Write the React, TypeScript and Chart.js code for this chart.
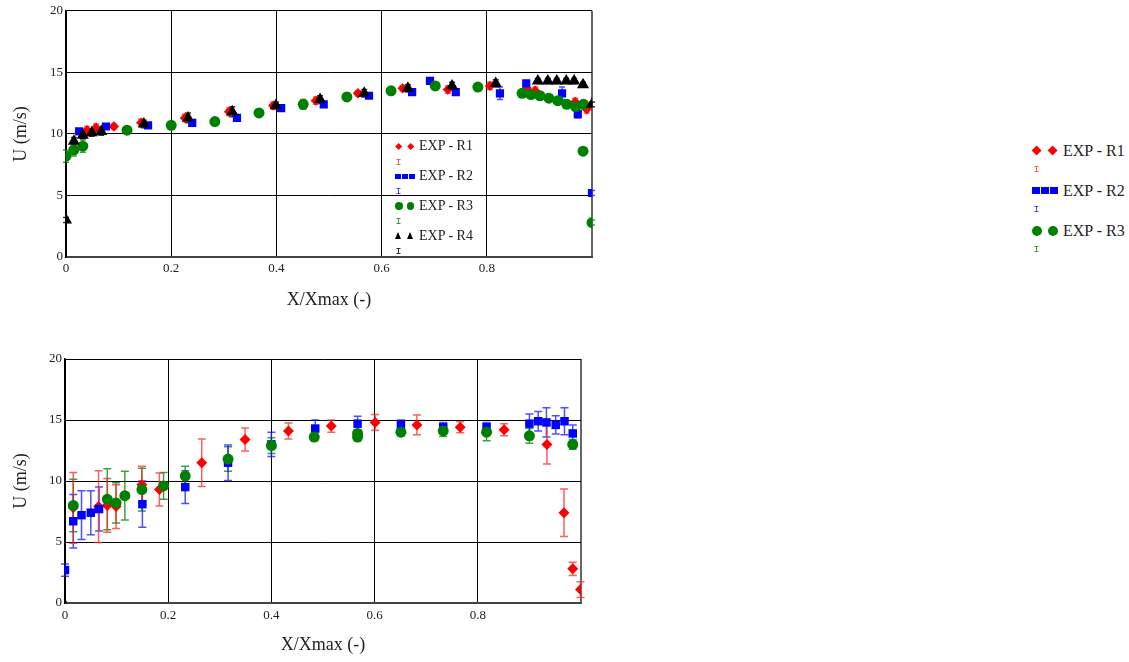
import React, { useEffect, useRef } from 'react';
import { Chart, registerables } from 'chart.js';
Chart.register(...registerables);

const FONT = '"Liberation Serif", "Times New Roman", serif';

const xTickLabels = ['0', '0.2', '0.4', '0.6', '0.8', ''];
const yTickLabels = ['0', '5', '10', '15', '20'];
const seriesNames = ['EXP - R1', 'EXP - R2', 'EXP - R3', 'EXP - R4'];
const xTitle = 'X/Xmax (-)';
const yTitle = 'U (m/s)';

// ---------- top chart ----------
const topR1X = [0.04, 0.057, 0.091, 0.143, 0.226, 0.31, 0.394, 0.475, 0.555, 0.64, 0.726, 0.806, 0.876, 0.892, 0.968, 0.99];
const topR1U = [10.3, 10.5, 10.6, 10.9, 11.3, 11.8, 12.3, 12.7, 13.3, 13.7, 13.6, 13.9, 13.7, 13.5, 12.6, 12.0];
const topR1Err = [0.3, 0.3, 0.2, 0.3, 0.3, 0.3, 0.3, 0.3, 0.2, 0.2, 0.3, 0.3, 0.2, 0.3, 0.3, 0.3];

const topR2X = [0.025, 0.076, 0.156, 0.24, 0.325, 0.409, 0.49, 0.576, 0.658, 0.692, 0.741, 0.825, 0.875, 0.943, 0.973, 1.0];
const topR2U = [10.2, 10.6, 10.7, 10.9, 11.3, 12.1, 12.4, 13.1, 13.4, 14.3, 13.4, 13.3, 14.1, 13.3, 11.6, 5.2];
const topR2Err = [0.2, 0.2, 0.2, 0.2, 0.2, 0.2, 0.2, 0.2, 0.2, 0.2, 0.2, 0.5, 0.2, 0.5, 0.3, 0.2];

const topR3X = [0, 0.015, 0.032, 0.116, 0.2, 0.283, 0.367, 0.451, 0.534, 0.618, 0.702, 0.783, 0.867, 0.884, 0.901, 0.918, 0.935, 0.952, 0.969, 0.984, 0.983, 1.0];
const topR3U = [8.2, 8.7, 9.0, 10.3, 10.7, 11.0, 11.7, 12.4, 13.0, 13.5, 13.9, 13.8, 13.3, 13.2, 13.1, 12.9, 12.7, 12.4, 12.2, 12.4, 8.6, 2.8];
const topR3Err = [0.5, 0.5, 0.5, 0.2, 0.2, 0.2, 0.2, 0.4, 0.2, 0.2, 0.2, 0.2, 0.2, 0.2, 0.2, 0.2, 0.2, 0.2, 0.2, 0.2, 0.2, 0.2];

const topR4X = [0, 0.015, 0.032, 0.049, 0.067, 0.148, 0.232, 0.316, 0.399, 0.483, 0.567, 0.65, 0.734, 0.817, 0.897, 0.916, 0.933, 0.951, 0.966, 0.983, 1.0];
const topR4U = [3.0, 9.4, 9.9, 10.1, 10.2, 10.8, 11.3, 11.8, 12.3, 12.8, 13.3, 13.7, 13.9, 14.1, 14.3, 14.3, 14.3, 14.3, 14.3, 14.0, 12.4];
const topR4Err = [0.2, 0.3, 0.3, 0.3, 0.3, 0.3, 0.4, 0.4, 0.3, 0.3, 0.3, 0.3, 0.3, 0.3, 0.2, 0.2, 0.2, 0.2, 0.2, 0.2, 0.2];

// ---------- bottom chart ----------
const botR1X = [0.016, 0.065, 0.082, 0.099, 0.149, 0.183, 0.265, 0.349, 0.433, 0.516, 0.601, 0.682, 0.766, 0.851, 0.934, 0.967, 0.984, 0.999];
const botR1U = [7.8, 7.9, 8.0, 7.9, 9.7, 9.3, 11.5, 13.4, 14.1, 14.5, 14.8, 14.6, 14.4, 14.2, 13.0, 7.4, 2.8, 1.1];
const botR1Err = [2.9, 2.95, 2.2, 1.8, 1.5, 1.35, 1.95, 0.95, 0.65, 0.5, 0.65, 0.8, 0.45, 0.5, 1.6, 1.95, 0.55, 0.65];

const botR2X = [0, 0.016, 0.032, 0.05, 0.066, 0.15, 0.233, 0.316, 0.4, 0.485, 0.567, 0.651, 0.733, 0.817, 0.9, 0.917, 0.933, 0.951, 0.968, 0.984];
const botR2U = [2.7, 6.7, 7.2, 7.4, 7.7, 8.1, 9.5, 11.5, 13.0, 14.3, 14.7, 14.6, 14.4, 14.4, 14.7, 14.9, 14.8, 14.6, 14.9, 13.9];
const botR2Err = [0.5, 2.2, 2.0, 1.8, 1.8, 1.9, 1.35, 1.45, 1.0, 0.7, 0.6, 0.4, 0.4, 0.4, 0.8, 0.8, 1.2, 0.75, 1.1, 0.7];

const botR3X = [0.016, 0.082, 0.099, 0.116, 0.149, 0.191, 0.233, 0.316, 0.4, 0.483, 0.567, 0.567, 0.651, 0.733, 0.817, 0.9, 0.984];
const botR3U = [8.0, 8.5, 8.2, 8.8, 9.3, 9.6, 10.4, 11.8, 12.9, 13.6, 13.6, 13.9, 14.0, 14.1, 14.0, 13.7, 13.0];
const botR3Err = [2.15, 2.5, 1.65, 2.0, 1.75, 1.1, 0.8, 1.0, 0.65, 0.3, 0.3, 0.3, 0.3, 0.45, 0.7, 0.6, 0.4];

const botR4X = [0];
const botR4U = [0.1];
const botR4Err = [0];

const COLORS = ['#ff0000', '#0000ff', '#008000', '#000000'];
const ERR_COLORS = ['rgba(255,40,40,0.75)', 'rgba(20,20,255,0.75)', 'rgba(0,128,0,0.75)', 'rgba(0,0,0,0.8)'];
const STYLES = ['rectRot', 'rect', 'circle', 'triangle'];

const errorBarPlugin = {
  id: 'errorBars',
  beforeDatasetsDraw(chart: any) {
    const { ctx, scales, chartArea } = chart;
    const x = scales.x, y = scales.y;
    ctx.save();
    ctx.beginPath();
    ctx.rect(chartArea.left - 6, chartArea.top, chartArea.right - chartArea.left + 12, chartArea.bottom - chartArea.top);
    ctx.clip();
    chart.data.datasets.forEach((ds: any) => {
      const errs = ds.errors;
      if (!errs) return;
      ctx.strokeStyle = ds.errorColor;
      ctx.lineWidth = 1.5;
      ds.data.forEach((p: any, j: number) => {
        const e = errs[j];
        if (!e) return;
        const px = x.getPixelForValue(p.x);
        const y1 = y.getPixelForValue(p.y - e);
        const y2 = y.getPixelForValue(p.y + e);
        const cap = ds.capHalf;
        ctx.beginPath();
        ctx.moveTo(px, y1); ctx.lineTo(px, y2);
        ctx.moveTo(px - cap, y1); ctx.lineTo(px + cap, y1);
        ctx.moveTo(px - cap, y2); ctx.lineTo(px + cap, y2);
        ctx.stroke();
      });
    });
    ctx.restore();
  },
};

function makeDataset(idx: number, xs: number[], us: number[], errs: number[], radius: number, cap: number) {
  return {
    label: seriesNames[idx],
    data: xs.map((v, i) => ({ x: v, y: us[i] })),
    errors: errs,
    errorColor: ERR_COLORS[idx],
    capHalf: cap,
    pointStyle: STYLES[idx],
    pointRadius: radius,
    pointBackgroundColor: COLORS[idx],
    pointBorderColor: COLORS[idx],
    pointBorderWidth: 0,
    showLine: false,
  };
}

function buildOptions(yWidth: number, xHeight: number, padTop: number, padRight: number, xTitlePadBottom: number, xTickPad: number) {
  return {
    responsive: false,
    maintainAspectRatio: false,
    animation: false,
    events: [],
    layout: { padding: { top: padTop, right: padRight, left: 0, bottom: 0 } },
    plugins: { legend: { display: false }, tooltip: { enabled: false } },
    scales: {
      x: {
        type: 'linear',
        position: 'bottom',
        min: 0,
        max: 1,
        ticks: {
          stepSize: 0.2,
          autoSkip: false,
          maxRotation: 0,
          padding: xTickPad,
          color: '#222',
          font: { family: FONT, size: 13 },
          callback: (_v: any, i: number) => xTickLabels[i] ?? '',
        },
        grid: {
          drawTicks: false,
          color: (c: any) => (c.tick && c.tick.value >= 0.999 ? '#666' : '#000'),
          lineWidth: (c: any) => (c.tick && c.tick.value >= 0.999 ? 2 : 1),
        },
        border: { color: '#444', width: 2 },
        title: {
          display: true,
          text: xTitle,
          color: '#222',
          font: { family: FONT, size: 18, lineHeight: 1 },
          padding: { top: 0, bottom: xTitlePadBottom },
        },
        afterFit: (s: any) => { s.height = xHeight; },
      },
      y: {
        type: 'linear',
        min: 0,
        max: 20,
        ticks: {
          stepSize: 5,
          padding: 3,
          color: '#222',
          font: { family: FONT, size: 13 },
          callback: (_v: any, i: number) => yTickLabels[i] ?? '',
        },
        grid: { drawTicks: false, color: '#000', lineWidth: 1 },
        border: { color: '#000', width: 1.5 },
        title: {
          display: true,
          text: yTitle,
          color: '#222',
          font: { family: FONT, size: 18, lineHeight: 1 },
          padding: { top: 12, bottom: 0 },
        },
        afterFit: (s: any) => { s.width = yWidth; },
      },
    },
  };
}

function ChartCanvas({ datasets, options, left, top, width, height }: any) {
  const ref = useRef<HTMLCanvasElement | null>(null);
  useEffect(() => {
    if (!ref.current) return;
    const chart = new Chart(ref.current, {
      type: 'scatter',
      data: { datasets },
      options,
      plugins: [errorBarPlugin],
    } as any);
    return () => chart.destroy();
  }, []);
  return (
    <canvas
      ref={ref}
      width={width}
      height={height}
      style={{ position: 'absolute', left, top, width, height }}
    />
  );
}

function Marker({ kind, size, color, left, top }: any) {
  const base: any = { position: 'absolute' };
  if (kind === 'diamond') {
    return <div style={{ ...base, left: left - size / 2, top: top - size / 2, width: size, height: size, background: color, transform: 'rotate(45deg)' }} />;
  }
  if (kind === 'square') {
    return <div style={{ ...base, left: left - size / 2, top: top - size / 2, width: size, height: size, background: color }} />;
  }
  if (kind === 'circle') {
    return <div style={{ ...base, left: left - size / 2, top: top - size / 2, width: size, height: size, background: color, borderRadius: '50%' }} />;
  }
  return (
    <div
      style={{
        ...base,
        left: left - size / 2,
        top: top - size / 2,
        width: 0,
        height: 0,
        borderLeft: `${size / 2}px solid transparent`,
        borderRight: `${size / 2}px solid transparent`,
        borderBottom: `${size}px solid ${color}`,
      }}
    />
  );
}

function ErrIcon({ color, left, top }: any) {
  return (
    <svg width={5} height={6} style={{ position: 'absolute', left: left - 2.5, top: top - 3 }}>
      <path d="M0.5 0.5 H4.5 M2.5 0.5 V5.5 M0.5 5.5 H4.5" stroke={color} strokeWidth={1} fill="none" />
    </svg>
  );
}

const KINDS = ['diamond', 'square', 'circle', 'triangle'];

function Legend({ count, x0, y0, rowGap, errGap, textLeft, fontSize, size, spacing, sqSize }: any) {
  const items = [];
  for (let i = 0; i < count; i++) {
    const cy = y0 + i * rowGap;
    const kind = KINDS[i];
    const markers = [];
    if (kind === 'square') {
      for (let k = 0; k < 3; k++) {
        markers.push(<Marker key={k} kind={kind} size={sqSize} color={COLORS[i]} left={x0 - 1 + k * (sqSize + 1.5)} top={cy} />);
      }
    } else {
      const s = kind === 'diamond' ? size * 0.72 : size;
      markers.push(<Marker key={0} kind={kind} size={s} color={COLORS[i]} left={x0} top={cy} />);
      markers.push(<Marker key={1} kind={kind} size={s} color={COLORS[i]} left={x0 + spacing} top={cy} />);
    }
    items.push(
      <React.Fragment key={i}>
        {markers}
        <div
          style={{
            position: 'absolute',
            left: textLeft,
            top: cy - fontSize * 0.6,
            fontFamily: FONT,
            fontSize,
            lineHeight: `${fontSize * 1.2}px`,
            color: '#222',
            whiteSpace: 'nowrap',
          }}
        >
          {seriesNames[i]}
        </div>
        <ErrIcon color={ERR_COLORS[i]} left={x0 - 1} top={cy + errGap} />
      </React.Fragment>
    );
  }
  return <>{items}</>;
}

export default function App() {
  const topDatasets = [
    makeDataset(3, topR4X, topR4U, topR4Err, 7, 3),
    makeDataset(2, topR3X, topR3U, topR3Err, 5.5, 3),
    makeDataset(1, topR2X, topR2U, topR2Err, 5.8, 3),
    makeDataset(0, topR1X, topR1U, topR1Err, 5.2, 3),
  ];
  const botDatasets = [
    makeDataset(3, botR4X, botR4U, botR4Err, 3, 3),
    makeDataset(2, botR3X, botR3U, botR3Err, 5.5, 4),
    makeDataset(1, botR2X, botR2U, botR2Err, 6, 4),
    makeDataset(0, botR1X, botR1U, botR1Err, 5.5, 4),
  ];
  const topOptions = buildOptions(66, 53, 9, 18, 1, 4);
  const botOptions = buildOptions(65, 59, 19, 19, 8, 5);

  return (
    <div style={{ position: 'absolute', left: 0, top: 0, width: 1129, height: 662, background: '#fff', overflow: 'hidden' }}>
      <ChartCanvas datasets={topDatasets} options={topOptions} left={0} top={0} width={610} height={310} />
      <ChartCanvas datasets={botDatasets} options={botOptions} left={0} top={340} width={600} height={322} />
      <Legend count={4} x0={399} y0={146.5} rowGap={29.8} errGap={15} textLeft={419} fontSize={14} size={7.5} spacing={11.5} sqSize={5.5} />
      <Legend count={3} x0={1037} y0={150.5} rowGap={40} errGap={18.5} textLeft={1063} fontSize={16} size={10} spacing={15.5} sqSize={7.5} />
    </div>
  );
}
